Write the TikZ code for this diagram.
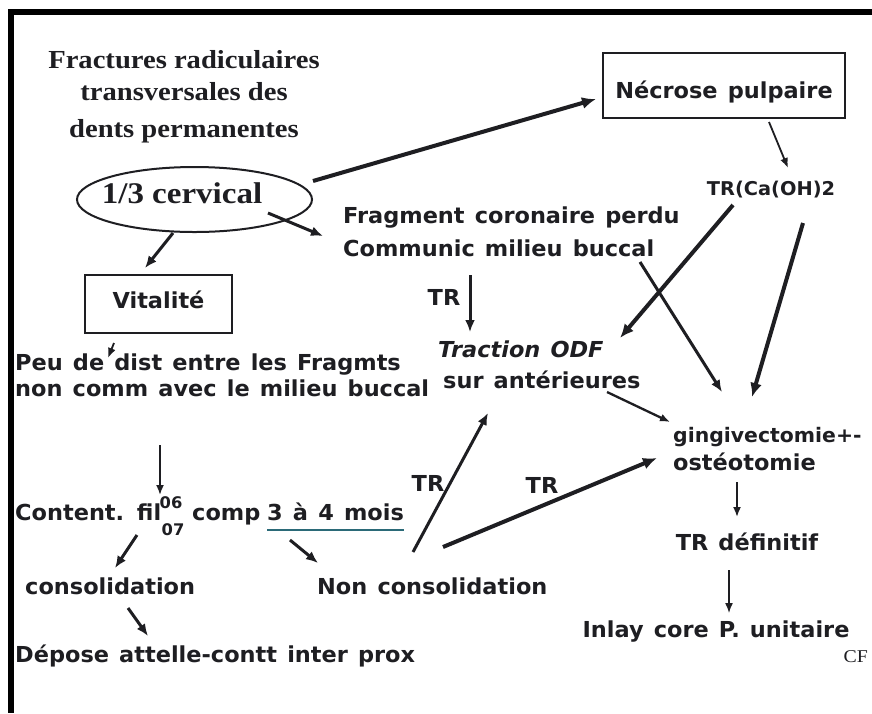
\documentclass[tikz,border=0pt]{standalone}
\usepackage{fontspec}
\setmainfont{DejaVu Sans}[FakeStretch=1.02,WordSpace=1.3]
\newfontfamily\titlefont{Liberation Serif}[FakeStretch=1.1]
\usetikzlibrary{arrows.meta,shapes.geometric}
\definecolor{ink}{HTML}{1E1E22}
\definecolor{uline}{HTML}{2B6A78}
\begin{document}
\begin{tikzpicture}[x=1pt,y=-1pt,
  lbl/.style={font=\bfseries\fontsize{22}{26}\selectfont, text=ink, inner sep=0pt},
  small/.style={font=\bfseries\fontsize{16}{18}\selectfont, text=ink, inner sep=0pt},
  ttl/.style={font=\titlefont\bfseries\fontsize{26}{30}\selectfont, text=ink, inner sep=0pt},
  boxed/.style={draw=ink, line width=2.2pt, inner sep=0pt},
  arrA/.style={draw=ink, line width=4pt, -{Latex[length=14pt,width=12pt]}},
  arrB/.style={draw=ink, line width=3pt, -{Latex[length=12pt,width=10pt]}},
  arrC/.style={draw=ink, line width=1.8pt, -{Latex[length=10pt,width=8pt]}},
]
\useasboundingbox[fill=white] (0,0) rectangle (872,713);
% frame (top and left bars)
\fill[black] (8,9) rectangle (872,15);
\fill[black] (8,9) rectangle (14,713);

% title
\node[ttl, anchor=base] (title1) at (184,68) {Fractures radiculaires};
\node[ttl, anchor=base] (title2) at (184,100) {transversales des};
\node[ttl, anchor=base] (title3) at (184,137) {dents permanentes};

% 1/3 cervical
\node[ellipse, draw=ink, line width=2pt, minimum width=235pt, minimum height=65pt, inner sep=0pt] (cervring) at (194.5,199.5) {};
\node[ttl, font=\titlefont\bfseries\fontsize{30}{34}\selectfont, anchor=base] (cerv) at (182,203) {1/3 cervical};

% boxes
\node[boxed, lbl, minimum width=242pt, minimum height=65pt, text height=25pt, text depth=0pt] (necrose) at (724,85.5) {Nécrose pulpaire};
\node[boxed, lbl, minimum width=147pt, minimum height=58pt, text height=16pt, text depth=8pt] (vital) at (158.5,304) {Vitalité};

% right column
\node[lbl, font=\bfseries\fontsize{19}{24}\selectfont, anchor=base] (trca) at (771,195) {TR(Ca(OH)2};
\node[lbl, anchor=base west] (frag1) at (343,223) {Fragment coronaire perdu};
\node[lbl, anchor=base west] (frag2) at (343,256) {Communic milieu buccal};
\node[lbl, anchor=base] (tr1) at (444,305) {TR};
\node[lbl, font=\bfseries\itshape\fontsize{22}{26}\selectfont, anchor=base west] (traction) at (438,357) {Traction ODF};
\node[lbl, anchor=base west] (sur) at (443,388) {sur antérieures};
\node[lbl, font=\bfseries\fontsize{20}{24}\selectfont, anchor=base west] (ging1) at (673,442) {gingivectomie+-};
\node[lbl, anchor=base west] (ging2) at (673,470) {ostéotomie};
\node[lbl, anchor=base] (trdef) at (747,550) {TR définitif};
\node[lbl, anchor=base] (inlay) at (716,637) {Inlay core P. unitaire};
\node[inner sep=0pt, text=ink, font=\titlefont\fontsize{18}{20}\selectfont, anchor=base east] (cf) at (868,662) {CF};

% left column
\node[lbl, anchor=base west] (peu1) at (15,370) {Peu de dist entre les Fragmts};
\node[lbl, anchor=base west] (peu2) at (15,396) {non comm avec le milieu buccal};
\node[lbl, anchor=base west] (content) at (15,520) {Content. fil};
\node[small, anchor=base] (n06) at (171,508) {06};
\node[small, anchor=base] (n07) at (173,535) {07};
\node[lbl, anchor=base west] (comp) at (192,520) {comp};
\node[lbl, anchor=base west] (mois) at (267,520) {3 à 4 mois};
\draw[uline, line width=2.5pt] (267,530) -- (mois.base east |- 0,530);
\node[lbl, anchor=base west] (consol) at (25,594) {consolidation};
\node[lbl, anchor=base west] (noncons) at (317,594) {Non consolidation};
\node[lbl, anchor=base west] (depose) at (15,662) {Dépose attelle-contt inter prox};
\node[lbl, anchor=base] (tr2) at (428,491) {TR};
\node[lbl, anchor=base] (tr3) at (542,493) {TR};

% connector end points
\coordinate (cerv-a) at (313,181);  \coordinate (necrose-a) at (596,99);
\coordinate (cerv-b) at (268,213);  \coordinate (frag-a) at (323,236);
\coordinate (cerv-c) at (173,233);  \coordinate (vital-a) at (145,268);
\coordinate (necrose-b) at (769,122); \coordinate (trca-a) at (788,168);
\coordinate (trca-b) at (733,205);  \coordinate (traction-a) at (620,338);
\coordinate (trca-c) at (803,223);  \coordinate (ging-a) at (752,397);
\coordinate (frag-b) at (640,262);  \coordinate (ging-b) at (722,392);
\coordinate (frag-c) at (470,275);  \coordinate (traction-b) at (470,332);
\coordinate (sur-a) at (607,392);   \coordinate (ging-c) at (670,422);
\coordinate (vital-b) at (114,343); \coordinate (peu-a) at (108,358);
\coordinate (peu-b) at (160,445);   \coordinate (content-a) at (160,495);
\coordinate (content-b) at (137,535); \coordinate (consol-a) at (115,568);
\coordinate (content-c) at (290,540); \coordinate (noncons-a) at (318,563);
\coordinate (consol-b) at (128,608); \coordinate (depose-a) at (148,636);
\coordinate (noncons-b) at (413,552); \coordinate (traction-c) at (488,413);
\coordinate (noncons-c) at (443,547); \coordinate (ging-d) at (657,458);
\coordinate (ging-e) at (737,482);  \coordinate (trdef-a) at (737,517);
\coordinate (trdef-b) at (729,570); \coordinate (inlay-a) at (729,613);

% connectors
\draw[arrA] (cerv-a) -- (necrose-a);
\draw[arrB] (cerv-b) -- (frag-a);
\draw[arrB] (cerv-c) -- (vital-a);
\draw[arrC] (necrose-b) -- (trca-a);
\draw[arrA] (trca-b) -- (traction-a);
\draw[arrA] (trca-c) -- (ging-a);
\draw[arrB] (frag-b) -- (ging-b);
\draw[arrB] (frag-c) -- (traction-b);
\draw[arrC, line width=2.3pt] (sur-a) -- (ging-c);
\draw[arrC] (vital-b) -- (peu-a);
\draw[arrC] (peu-b) -- (content-a);
\draw[arrB] (content-b) -- (consol-a);
\draw[arrB] (content-c) -- (noncons-a);
\draw[arrB] (consol-b) -- (depose-a);
\draw[arrB] (noncons-b) -- (traction-c);
\draw[arrA] (noncons-c) -- (ging-d);
\draw[arrC] (ging-e) -- (trdef-a);
\draw[arrC, line width=1.5pt] (trdef-b) -- (inlay-a);
\end{tikzpicture}
\end{document}
